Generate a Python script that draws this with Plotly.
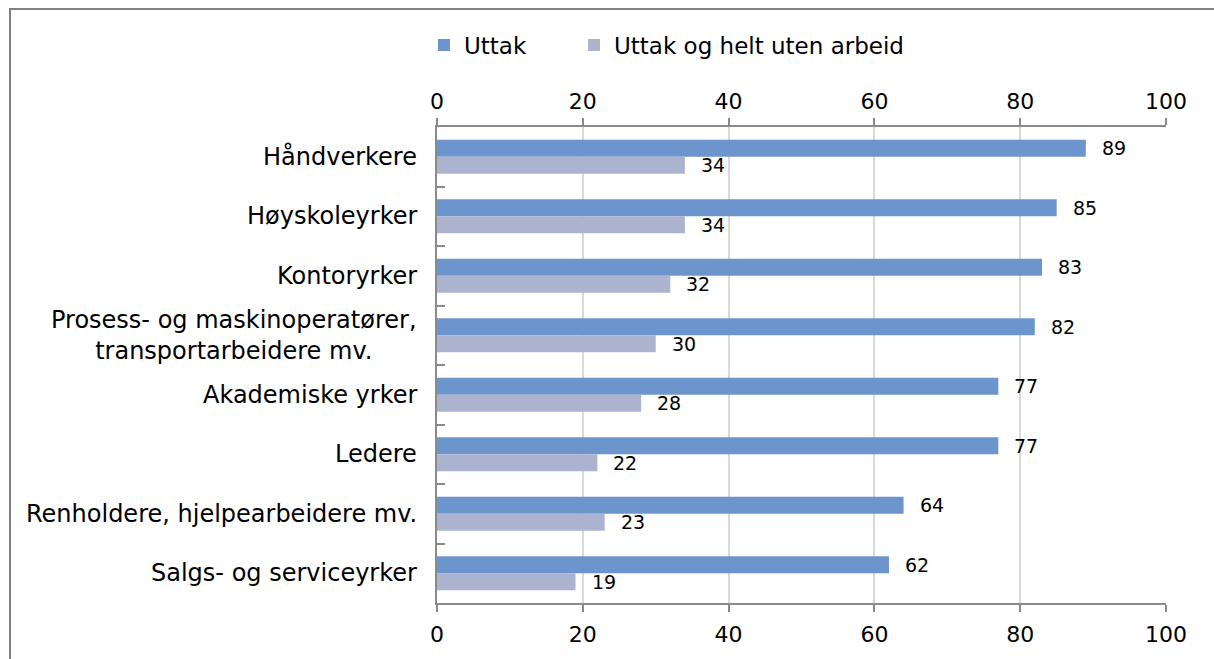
import plotly.graph_objects as go

categories = [
    "Håndverkere",
    "Høyskoleyrker",
    "Kontoryrker",
    "Prosess- og maskinoperatører,<br>transportarbeidere mv.",
    "Akademiske yrker",
    "Ledere",
    "Renholdere, hjelpearbeidere mv.",
    "Salgs- og serviceyrker",
]
uttak = [89, 85, 83, 82, 77, 77, 64, 62]
uttak_uten_arbeid = [34, 34, 32, 30, 28, 22, 23, 19]
x_ticks = [0, 20, 40, 60, 80, 100]

FONT = "DejaVu Sans"
DARK = "#6b95cc"
LIGHT = "#abb3cf"
AXIS = "#8a8a8a"
GRID = "#d9d9d9"

fig = go.Figure()
fig.add_trace(go.Bar(name="Uttak", y=categories, x=uttak, orientation="h", legend="legend",
                     marker=dict(color=DARK, line=dict(width=0)), hoverinfo="x+y"))
fig.add_trace(go.Bar(name="Uttak og helt uten arbeid", y=categories, x=uttak_uten_arbeid,
                     orientation="h", legend="legend2",
                     marker=dict(color=LIGHT, line=dict(width=0)), hoverinfo="x+y"))
# helper trace for the top axis
fig.add_trace(go.Scatter(x=[x_ticks[0], x_ticks[-1]], y=[categories[0], categories[0]], mode="none",
                         xaxis="x2", showlegend=False, hoverinfo="skip"))

annotations = []
for c, v in zip(categories, uttak):
    annotations.append(dict(x=v, y=c, xref="x", yref="y", text=str(v), showarrow=False,
                            xanchor="left", xshift=14, yshift=8.5,
                            font=dict(family=FONT, size=19, color="black")))
for c, v in zip(categories, uttak_uten_arbeid):
    annotations.append(dict(x=v, y=c, xref="x", yref="y", text=str(v), showarrow=False,
                            xanchor="left", xshift=14, yshift=-8.5,
                            font=dict(family=FONT, size=19, color="black")))
for c in categories:
    annotations.append(dict(x=0, y=c, xref="paper", yref="y", text=c, showarrow=False,
                            xanchor="right", align="center", xshift=-18,
                            font=dict(family=FONT, size=24, color="black")))

axis_common = dict(range=[0, 100], tickvals=x_ticks, ticks="outside", ticklen=7,
                   tickwidth=2, tickcolor=AXIS, showline=True, linecolor=AXIS, linewidth=2,
                   tickfont=dict(family=FONT, size=22, color="black"), zeroline=False)

legend_common = dict(orientation="h", y=(603 - 45) / 476, xanchor="left", yanchor="middle",
                     font=dict(family=FONT, size=23, color="black"), bgcolor="rgba(0,0,0,0)")

fig.update_layout(
    width=1214, height=659,
    margin=dict(l=437, r=48, t=127, b=56),
    paper_bgcolor="white", plot_bgcolor="white",
    barmode="group", bargap=0.43, bargroupgap=0,
    xaxis=dict(**axis_common, side="bottom", showgrid=True, gridcolor=GRID, gridwidth=2,
               ticklabelstandoff=4),
    xaxis2=dict(**axis_common, side="top", overlaying="x", matches="x", showgrid=False, anchor="y"),
    yaxis=dict(autorange="reversed", showticklabels=False, ticks="inside", ticklen=8,
               tickwidth=2, tickcolor=AXIS, tickson="boundaries", showline=True,
               linecolor=AXIS, linewidth=2, showgrid=False),
    legend=dict(**legend_common, x=(424 - 437) / 729),
    legend2=dict(**legend_common, x=(574 - 437) / 729),
    annotations=annotations,
    shapes=[dict(type="rect", xref="paper", yref="paper",
                 x0=(10 - 437) / 729, x1=(1230 - 437) / 729,
                 y0=(603 - 680) / 476, y1=(603 - 9) / 476,
                 line=dict(color="#808080", width=2), fillcolor="rgba(0,0,0,0)", layer="below")],
    showlegend=True,
)

fig.write_html("out.html", config={"displayModeBar": False},
               post_script="document.body.style.margin='0';")
